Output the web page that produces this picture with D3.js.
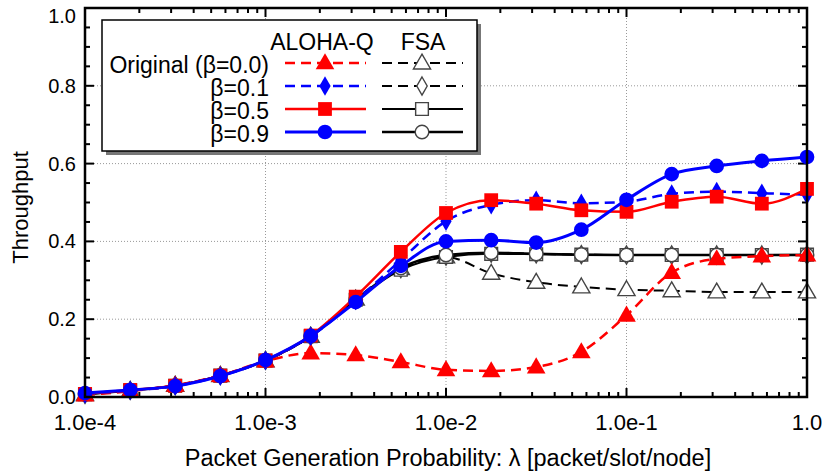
<!DOCTYPE html>
<html>
<head>
<meta charset="utf-8">
<script src="https://cdn.jsdelivr.net/npm/d3@7"></script>
<style>
	body { margin: 0; background: #fff; }
	text { font-family: 'Liberation Sans', Arial, sans-serif; fill: #000; }
</style>
</head>
<body>
<div id="chart"></div>
<script>
// packet generation probability (x) - quarter decades
var lambdas = [1e-4, 1.78e-4, 3.16e-4, 5.62e-4, 1e-3, 1.78e-3, 3.16e-3, 5.62e-3, 1e-2, 1.78e-2, 3.16e-2, 5.62e-2, 1e-1, 1.78e-1, 3.16e-1, 5.62e-1, 1.0];

var alohaOrig = [0.005, 0.015, 0.03, 0.055, 0.092, 0.113, 0.108, 0.09, 0.07, 0.067, 0.077, 0.116, 0.21, 0.32, 0.355, 0.362, 0.365];
var aloha01 = [0.008, 0.017, 0.028, 0.054, 0.094, 0.156, 0.248, 0.352, 0.452, 0.494, 0.506, 0.498, 0.502, 0.522, 0.528, 0.524, 0.52];
var aloha05 = [0.008, 0.018, 0.029, 0.055, 0.094, 0.158, 0.258, 0.373, 0.473, 0.506, 0.497, 0.48, 0.476, 0.502, 0.515, 0.497, 0.535];
var aloha09 = [0.01, 0.018, 0.028, 0.054, 0.095, 0.157, 0.244, 0.337, 0.4, 0.403, 0.397, 0.43, 0.507, 0.573, 0.594, 0.607, 0.617];

var fsaOrig = [0.006, 0.016, 0.03, 0.055, 0.093, 0.156, 0.252, 0.33, 0.36, 0.318, 0.295, 0.283, 0.276, 0.273, 0.27, 0.27, 0.27];
var fsa01 = [0.007, 0.017, 0.029, 0.055, 0.094, 0.156, 0.25, 0.33, 0.362, 0.37, 0.368, 0.366, 0.365, 0.365, 0.365, 0.365, 0.365];
var fsa05 = [0.007, 0.017, 0.029, 0.055, 0.094, 0.156, 0.25, 0.327, 0.36, 0.368, 0.367, 0.366, 0.365, 0.365, 0.365, 0.365, 0.366];
var fsa09 = [0.007, 0.017, 0.029, 0.055, 0.094, 0.156, 0.25, 0.332, 0.365, 0.371, 0.368, 0.366, 0.365, 0.365, 0.365, 0.365, 0.365];

var xTicks = [1e-4, 1e-3, 1e-2, 1e-1, 1];
var xTickLabels = ['1.0e-4', '1.0e-3', '1.0e-2', '1.0e-1', '1.0'];
var yTicks = [0, 0.2, 0.4, 0.6, 0.8, 1.0];
var legendLabels = ['Original (\u03b2=0.0)', '\u03b2=0.1', '\u03b2=0.5', '\u03b2=0.9'];

var width = 825, height = 475;
var margin = { left: 85, right: 18, top: 8, bottom: 78 };

var svg = d3.select('#chart').append('svg')
	.attr('width', width)
	.attr('height', height)
	.style('display', 'block');

var x = d3.scaleLog()
	.domain([1e-4, 1])
	.range([margin.left, width - margin.right]);
var y = d3.scaleLinear()
	.domain([0, 1])
	.range([height - margin.bottom, margin.top]);

var x0 = x.range()[0], x1 = x.range()[1];
var y0 = y.range()[0], y1 = y.range()[1];

// grid
var grid = svg.append('g').attr('class', 'grid');
grid.selectAll('.gx').data(xTicks.slice(1, -1)).enter().append('line')
	.attr('x1', function(d) { return x(d); })
	.attr('x2', function(d) { return x(d); })
	.attr('y1', y0).attr('y2', y1)
	.attr('stroke', '#999').attr('stroke-width', 1).attr('stroke-dasharray', '1,2');
grid.selectAll('.gy').data(yTicks.slice(1, -1)).enter().append('line')
	.attr('y1', function(d) { return y(d); })
	.attr('y2', function(d) { return y(d); })
	.attr('x1', x0).attr('x2', x1)
	.attr('stroke', '#999').attr('stroke-width', 1).attr('stroke-dasharray', '1,2');

// ticks (inward on all sides)
var minorX = [];
for (var e = -4; e < 0; e++)
	for (var m = 2; m < 10; m++) minorX.push(m * Math.pow(10, e));
var minorY = d3.range(0.05, 1, 0.05).filter(function(v) { return Math.abs(v * 5 - Math.round(v * 5)) > 1e-6; });

var ticks = svg.append('g').attr('stroke', '#000');
function xTick(vals, len, w) {
	ticks.selectAll(null).data(vals).enter().append('line')
		.attr('x1', function(d) { return x(d); }).attr('x2', function(d) { return x(d); })
		.attr('y1', y0).attr('y2', y0 - len).attr('stroke-width', w);
	ticks.selectAll(null).data(vals).enter().append('line')
		.attr('x1', function(d) { return x(d); }).attr('x2', function(d) { return x(d); })
		.attr('y1', y1).attr('y2', y1 + len).attr('stroke-width', w);
}
function yTick(vals, len, w) {
	ticks.selectAll(null).data(vals).enter().append('line')
		.attr('y1', function(d) { return y(d); }).attr('y2', function(d) { return y(d); })
		.attr('x1', x0).attr('x2', x0 + len).attr('stroke-width', w);
	ticks.selectAll(null).data(vals).enter().append('line')
		.attr('y1', function(d) { return y(d); }).attr('y2', function(d) { return y(d); })
		.attr('x1', x1).attr('x2', x1 - len).attr('stroke-width', w);
}
xTick(xTicks, 9, 2);
xTick(minorX, 5, 2);
yTick(yTicks, 9, 2);
yTick(minorY, 5, 2);

// tick labels
svg.append('g').selectAll('text').data(xTicks).enter().append('text')
	.attr('x', function(d) { return x(d); })
	.attr('y', y0 + 33)
	.attr('text-anchor', 'middle')
	.style('font-size', '22px')
	.text(function(d, i) { return xTickLabels[i]; });
svg.append('g').selectAll('text').data(yTicks).enter().append('text')
	.attr('x', x0 - 9)
	.attr('y', function(d) { return Math.max(y(d) + 7, 23); })
	.attr('text-anchor', 'end')
	.style('font-size', '20px')
	.text(function(d) { return d.toFixed(1); });

svg.append('text')
	.attr('x', (x0 + x1) / 2 + 2)
	.attr('y', 466)
	.attr('text-anchor', 'middle')
	.style('font-size', '23.5px')
	.text('Packet Generation Probability:  \u03bb [packet/slot/node]');
svg.append('text')
	.attr('transform', 'translate(28,' + ((y0 + y1) / 2 + 5) + ') rotate(-90)')
	.attr('text-anchor', 'middle')
	.style('font-size', '22px')
	.text('Throughput');

// series
var series = [
	{ values: fsaOrig, color: '#000', dash: '10,6', marker: 'triangle', fill: '#fff', w: 2 },
	{ values: fsa01, color: '#000', dash: '10,6', marker: 'diamond', fill: '#fff', w: 2 },
	{ values: fsa05, color: '#000', dash: null, marker: 'square', fill: '#fff', w: 2 },
	{ values: fsa09, color: '#000', dash: null, marker: 'circle', fill: '#fff', w: 2.5 },
	{ values: alohaOrig, color: '#f00', dash: '10,6', marker: 'triangle', fill: '#f00', w: 2.5 },
	{ values: aloha01, color: '#00f', dash: '10,6', marker: 'diamond', fill: '#00f', w: 2.5 },
	{ values: aloha05, color: '#f00', dash: null, marker: 'square', fill: '#f00', w: 2.5 },
	{ values: aloha09, color: '#00f', dash: null, marker: 'circle', fill: '#00f', w: 3 }
];

var symbolTypes = {
	triangle: { type: d3.symbolTriangle, size: 150 },
	diamond: { type: d3.symbolDiamond, size: 110 },
	square: { type: d3.symbolSquare, size: 190 },
	circle: { type: d3.symbolCircle, size: 170 }
};
function drawMarker(g, s, cx, cy) {
	var st = symbolTypes[s.marker];
	var open = s.fill === '#fff';
	g.append('path')
		.attr('d', d3.symbol().type(st.type).size(open ? st.size * 0.85 : st.size)())
		.attr('transform', 'translate(' + cx + ',' + (cy + (s.marker === 'triangle' ? 1 : 0)) + ')')
		.attr('fill', s.fill)
		.attr('stroke', open ? '#444' : 'none')
		.attr('stroke-width', open ? 1.4 : 0);
}

var line = d3.line()
	.x(function(d, i) { return x(lambdas[i]); })
	.y(function(d) { return y(d); })
	.curve(d3.curveMonotoneX);

var plot = svg.append('g');
series.forEach(function(s) {
	plot.append('path')
		.attr('d', line(s.values))
		.attr('fill', 'none')
		.attr('stroke', s.color)
		.attr('stroke-width', s.w)
		.attr('stroke-dasharray', s.dash);
	s.values.forEach(function(v, i) {
		drawMarker(plot, s, x(lambdas[i]), y(v));
	});
});

// frame
svg.append('rect')
	.attr('x', x0).attr('y', y1)
	.attr('width', x1 - x0).attr('height', y0 - y1)
	.attr('fill', 'none').attr('stroke', '#000').attr('stroke-width', 2.5);

// legend
var lg = svg.append('g');
lg.append('rect').attr('x', 106).attr('y', 24).attr('width', 375).attr('height', 131).attr('fill', '#777');
lg.append('rect').attr('x', 102).attr('y', 20).attr('width', 375).attr('height', 131)
	.attr('fill', '#fff').attr('stroke', '#000').attr('stroke-width', 1.5);
lg.append('text').attr('x', 322).attr('y', 50).attr('text-anchor', 'middle').style('font-size', '23px').text('ALOHA-Q');
lg.append('text').attr('x', 423).attr('y', 50).attr('text-anchor', 'middle').style('font-size', '23px').text('FSA');
var rowY = [63, 86, 109, 132];
legendLabels.forEach(function(lbl, i) {
	lg.append('text').attr('x', 269).attr('y', rowY[i] + 10).attr('text-anchor', 'end')
		.style('font-size', '23px').text(lbl);
	[series[4 + i], series[i]].forEach(function(s, j) {
		var cx = j === 0 ? 325 : 422;
		lg.append('line')
			.attr('x1', cx - 40).attr('x2', cx + 41)
			.attr('y1', rowY[i]).attr('y2', rowY[i])
			.attr('stroke', s.color).attr('stroke-width', s.w)
			.attr('stroke-dasharray', s.dash);
		drawMarker(lg, s, cx, rowY[i]);
	});
});
</script>
</body>
</html>
